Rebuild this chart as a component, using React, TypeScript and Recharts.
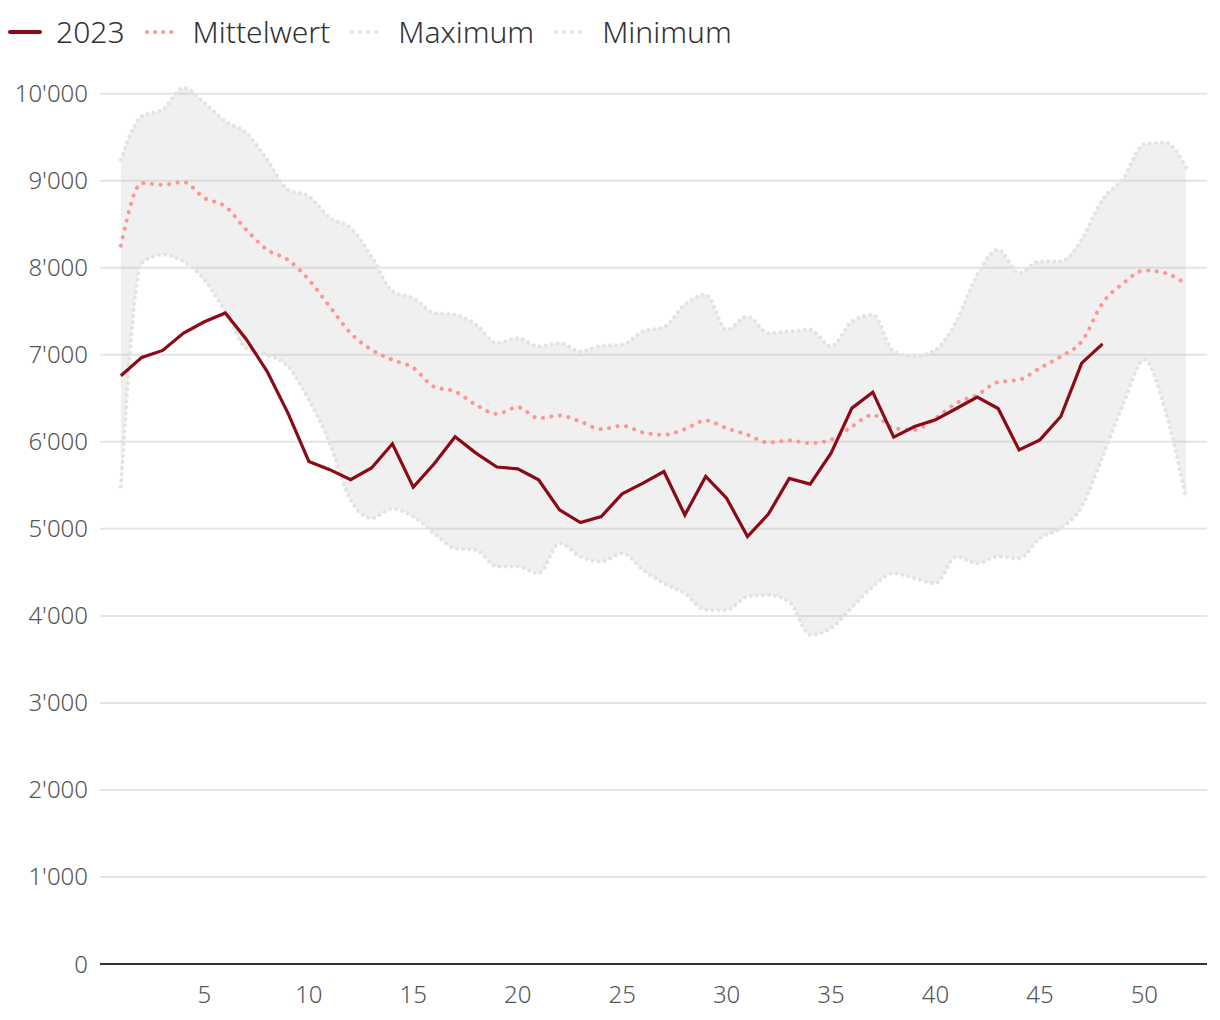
import React from 'react';
import { ComposedChart, Area, Line, XAxis, YAxis, CartesianGrid } from 'recharts';

// Kalenderwochen 1..52
const weeks = Array.from({ length: 52 }, (_, i) => i + 1);

const values2023 = [
  6760, 6970, 7050, 7250, 7380, 7480, 7180, 6810, 6330, 5775,
  5680, 5565, 5700, 5977, 5480, 5747, 6057, 5870, 5710, 5690,
  5563, 5218, 5073, 5142, 5402, 5525, 5659, 5160, 5602, 5352,
  4912, 5169, 5579, 5514, 5870, 6387, 6571, 6054, 6176, 6253,
  6383, 6513, 6383, 5908, 6023, 6291, 6904, 7126,
];

const meanValues = [
  8253, 8973, 8954, 8985, 8801, 8705, 8437, 8207, 8092, 7862,
  7555, 7249, 7057, 6943, 6850, 6632, 6578, 6425, 6322, 6398,
  6272, 6302, 6233, 6146, 6184, 6107, 6080, 6146, 6245, 6157,
  6080, 5992, 6015, 5985, 6023, 6176, 6310, 6157, 6138, 6272,
  6444, 6540, 6686, 6713, 6847, 6981, 7153, 7594, 7824, 7969,
  7939, 7812,
];

const maxValues = [
  9241, 9739, 9816, 10065, 9893, 9682, 9548, 9241, 8897, 8820,
  8571, 8456, 8130, 7728, 7651, 7479, 7460, 7345, 7134, 7191,
  7096, 7134, 7038, 7103, 7115, 7268, 7318, 7575, 7690, 7287,
  7440, 7249, 7268, 7287, 7096, 7383, 7460, 7038, 6981, 7057,
  7383, 7920, 8207, 7939, 8073, 8073, 8322, 8782, 9031, 9420,
  9437, 9150,
];

const minValues = [
  5486, 8054, 8150, 8073, 7862, 7498, 7077, 7000, 6866, 6483,
  5985, 5333, 5123, 5230, 5142, 4950, 4778, 4758, 4567, 4567,
  4490, 4835, 4682, 4625, 4720, 4529, 4375, 4260, 4069, 4069,
  4222, 4241, 4164, 3782, 3858, 4100, 4337, 4490, 4433, 4375,
  4682, 4605, 4682, 4662, 4893, 5008, 5257, 5831, 6444, 6943,
  6368, 5352,
];

const xTicks = [5, 10, 15, 20, 25, 30, 35, 40, 45, 50];
const yTicks = [0, 1000, 2000, 3000, 4000, 5000, 6000, 7000, 8000, 9000, 10000];

const data = weeks.map((w, i) => ({
  week: w,
  y2023: i < values2023.length ? values2023[i] : null,
  mean: meanValues[i],
  max: maxValues[i],
  min: minValues[i],
  range: [minValues[i], maxValues[i]],
}));

const RED = '#8a0a17';
const PINK = '#ff9494';
const GREY_DOT = '#e4e4de';
const FONT = '"Noto Sans", "Open Sans", sans-serif';

const fmt = (v: number) => String(v).replace(/\B(?=(\d{3})+(?!\d))/g, "'");

const LegendItem = ({ label, color, dotted, gap }: { label: string; color: string; dotted?: boolean; gap: number }) => (
  <div style={{ display: 'flex', alignItems: 'center', marginRight: gap }}>
    <svg width={34} height={10} style={{ marginRight: 14 }}>
      <line
        x1={2}
        y1={5}
        x2={32}
        y2={5}
        stroke={color}
        strokeWidth={4}
        strokeLinecap="round"
        strokeDasharray={dotted ? '0.1 8' : undefined}
      />
    </svg>
    <span>{label}</span>
  </div>
);

export default function App() {
  return (
    <div style={{ position: 'relative', width: 1220, height: 1020, margin: -8, background: '#fff', fontFamily: FONT }}>
      <div
        style={{
          position: 'absolute',
          top: 11,
          left: 8,
          display: 'flex',
          fontSize: 30,
          fontWeight: 300,
          color: '#333',
          lineHeight: '42px',
        }}
      >
        <LegendItem label="2023" color={RED} gap={20} />
        <LegendItem label="Mittelwert" color={PINK} dotted gap={20} />
        <LegendItem label="Maximum" color={GREY_DOT} dotted gap={20} />
        <LegendItem label="Minimum" color={GREY_DOT} dotted gap={0} />
      </div>
      <ComposedChart
        width={1220}
        height={1020}
        data={data}
        margin={{ top: 85, right: 13, bottom: 0, left: 0 }}
        style={{ fontFamily: FONT }}
      >
        <CartesianGrid vertical={false} horizontalValues={yTicks} stroke="#e4e4e4" strokeWidth={2} />
        <XAxis
          dataKey="week"
          type="number"
          domain={[0, 53]}
          ticks={xTicks}
          height={56}
          axisLine={{ stroke: '#333', strokeWidth: 2 }}
          tickLine={false}
          tickMargin={16}
          tick={{ fill: '#555', fontSize: 24, fontWeight: 300 }}
        />
        <YAxis
          type="number"
          domain={[0, 10100]}
          allowDataOverflow
          ticks={yTicks}
          width={100}
          axisLine={false}
          tickLine={false}
          tickSize={0}
          tickMargin={12}
          tickFormatter={fmt}
          tick={{ fill: '#555', fontSize: 24, fontWeight: 300 }}
        />
        <Area
          dataKey="range"
          type="monotone"
          stroke="none"
          fill="#bbbbbb"
          fillOpacity={0.22}
          isAnimationActive={false}
          dot={false}
          activeDot={false}
        />
        <Line
          dataKey="max"
          type="monotone"
          stroke={GREY_DOT}
          strokeWidth={4}
          strokeLinecap="round"
          strokeDasharray="0.1 6"
          dot={false}
          activeDot={false}
          isAnimationActive={false}
        />
        <Line
          dataKey="min"
          type="monotone"
          stroke={GREY_DOT}
          strokeWidth={4}
          strokeLinecap="round"
          strokeDasharray="0.1 6"
          dot={false}
          activeDot={false}
          isAnimationActive={false}
        />
        <Line
          dataKey="mean"
          type="monotone"
          stroke={PINK}
          strokeWidth={4}
          strokeLinecap="round"
          strokeDasharray="0.1 8.5"
          dot={false}
          activeDot={false}
          isAnimationActive={false}
        />
        <Line
          dataKey="y2023"
          type="linear"
          stroke={RED}
          strokeWidth={3.2}
          dot={false}
          activeDot={false}
          connectNulls={false}
          isAnimationActive={false}
        />
      </ComposedChart>
    </div>
  );
}
